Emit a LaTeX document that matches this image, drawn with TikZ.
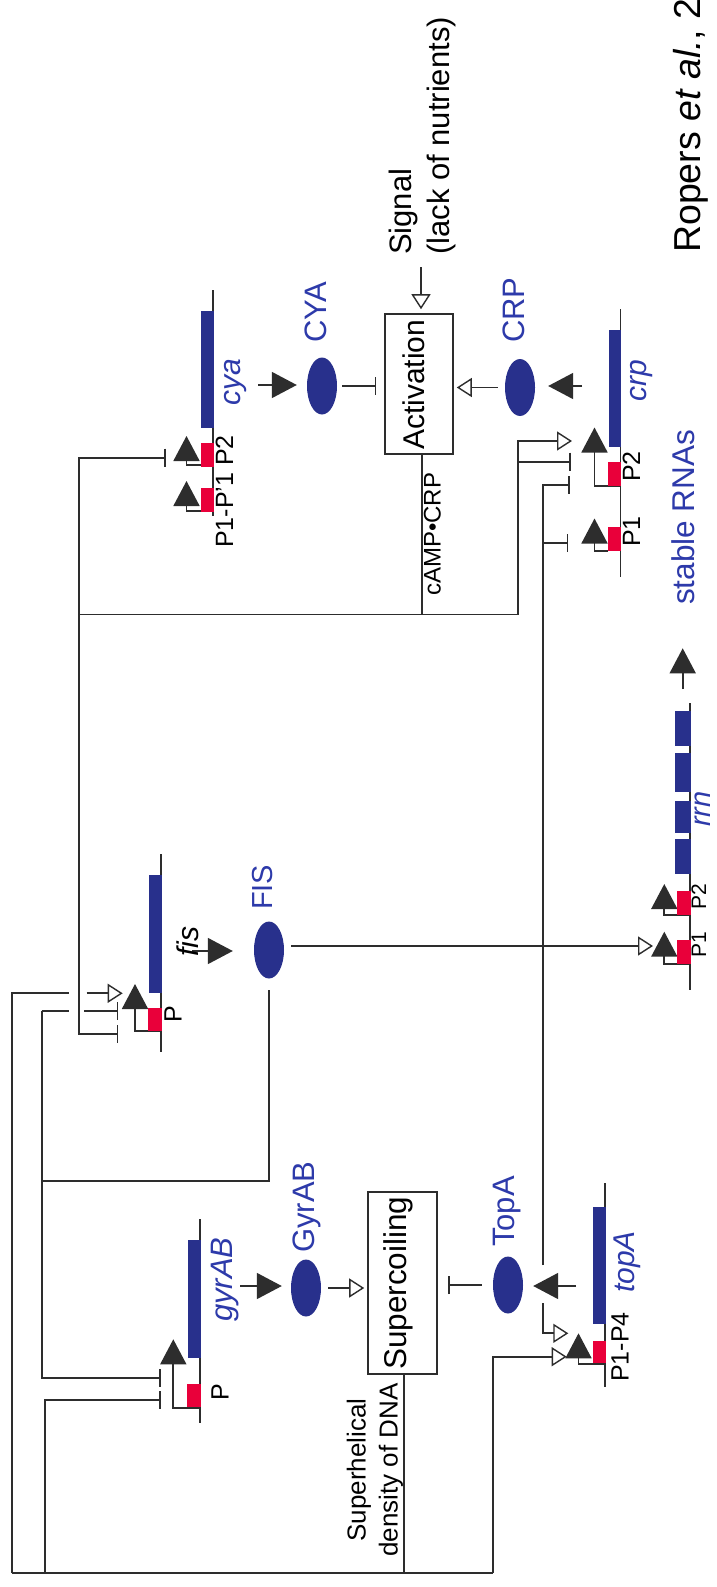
\documentclass[tikz,border=0pt]{standalone}
\usepackage{fontspec}
\setmainfont{Liberation Sans}
\usetikzlibrary{arrows.meta,shapes.geometric,calc}
\definecolor{navy}{RGB}{40,48,140}
\definecolor{bluetxt}{RGB}{45,58,170}
\definecolor{promred}{RGB}{233,0,58}
\definecolor{lc}{RGB}{45,45,45}
\newcommand{\fsz}[1]{\fontsize{#1}{#1}\selectfont}
\begin{document}
\begin{tikzpicture}[x=1pt,y=-1pt,
  ln/.style={line width=1.7pt, draw=lc},
  act/.style={ln, -{Triangle[open, length=15pt, width=19pt, fill=white, line width=1.4pt]}},
  inh/.style={ln, -{Bar[width=18pt]}},
  prom/.style={ln, -{Triangle[length=25pt, width=26pt, fill=lc]}},
  prot/.style={ellipse, fill=navy, minimum width=30pt, minimum height=57pt, inner sep=0pt},
  pbox/.style={draw=lc, line width=1.6pt, rectangle, inner sep=0pt},
  lab/.style={rotate=90, anchor=base west, inner sep=0pt, text=black},
  blab/.style={lab, text=bluetxt},
  glab/.style={lab, text=bluetxt, font=\fsz{30}\itshape},
]
\useasboundingbox (0,0) rectangle (716,1587);
\fill[white] (0,0) rectangle (716,1587);

% ---------- proteins and process boxes ----------
\node[prot] (CYA) at (322,386) {};
\node[prot] (CRP) at (520,387.5) {};
\node[prot] (FIS) at (269,950) {};
\node[prot] (GyrAB) at (306,1288) {};
\node[prot] (TopA) at (508,1285) {};
\node[pbox, minimum width=68pt, minimum height=140pt] (Act) at (419,384) {};
\node[pbox, minimum width=69pt, minimum height=182pt] (Sup) at (402.5,1283) {};

% ---------- genes ----------
% cya
\draw[ln] (213,290) -- (213,516);
\fill[navy] (201,311) rectangle (213.6,428);
\draw[prom] (213,465) -| (186.5,436);
\draw[prom] (213,511) -| (186.5,481);
\fill[promred] (200.7,443.3) rectangle (213.6,466.7);
\fill[promred] (200.7,488.3) rectangle (213.6,511.7);
% crp
\draw[ln] (620.5,309) -- (620.5,577);
\fill[navy] (608.5,330) rectangle (621.1,447);
\draw[prom] (620.5,486) -| (594.5,427.5);
\draw[prom] (608,551) -| (594.5,518.5);
\fill[promred] (608.3,461.7) rectangle (621.3,486);
\fill[promred] (608.3,526.7) rectangle (621.3,550.7);
% fis
\draw[ln] (161,854) -- (161,1052);
\fill[navy] (149,875) rectangle (161.6,992.5);
\draw[prom] (161,1031) -| (135,984);
\fill[promred] (148.3,1007.7) rectangle (161.6,1031);
% gyrAB
\draw[ln] (200,1219) -- (200,1423);
\fill[navy] (187.5,1240) rectangle (200.6,1358);
\draw[prom] (200,1408.3) -| (173.3,1339.3);
\fill[promred] (187.3,1384) rectangle (200.6,1407.3);
% topA
\draw[ln] (605,1183) -- (605,1387);
\fill[navy] (592.7,1207) rectangle (605.6,1324);
\draw[prom] (605,1364) -| (578.5,1333.3);
\fill[promred] (592.7,1341) rectangle (605.6,1363.3);
% rrn
\draw[ln] (690,703) -- (690,990);
\fill[navy] (675,711) rectangle (690.6,746);
\fill[navy] (675,753.3) rectangle (690.6,791.7);
\fill[navy] (675,800.7) rectangle (690.6,832.7);
\fill[navy] (675,839.3) rectangle (690.6,874);
\draw[prom] (690,915) -| (664.3,884);
\draw[prom] (690,964) -| (664.3,931.7);
\fill[promred] (677,891) rectangle (690.6,915);
\fill[promred] (677,940) rectangle (690.6,964);
\coordinate (rrnS) at (682.7,689);
\draw[prom] (rrnS) -- (682.7,648.3);

% ---------- expression arrows ----------
\coordinate (cyaE) at (258,385);
\draw[prom] (cyaE) -- ($(cyaE -| CYA.west)+(-10,0)$);
\coordinate (crpE) at (582,386);
\draw[prom] (crpE) -- ($(crpE -| CRP.east)+(13,0)$);
\coordinate (fisE) at (192,951);
\draw[prom] (fisE) -- ($(fisE -| FIS.west)+(-21,0)$);
\coordinate (gyrE) at (240,1286);
\draw[prom] (gyrE) -- ($(gyrE -| GyrAB.west)+(-9,0)$);
\coordinate (topE) at (576,1286);
\draw[prom] (topE) -- ($(topE -| TopA.east)+(10,0)$);

% ---------- interactions ----------
\coordinate (sig) at (421,267);
\draw[act, shorten >=4pt] (sig) -- (sig |- Act.north);
\draw[act, shorten <=7pt, shorten >=3pt] (CRP.west) -- (CRP.west -| Act.east);
\draw[inh, shorten <=5pt, shorten >=8pt] (CYA.east) -- (CYA.east -| Act.west);
\draw[act, shorten <=7pt, shorten >=3pt] (GyrAB.east) -- (GyrAB.east -| Sup.west);
\draw[inh, shorten <=11pt, shorten >=10pt] (TopA.west) -- (TopA.west -| Sup.east);

% cAMP.CRP
\coordinate (campT) at (421.7,454);
\coordinate (campB) at (421.7,614.5);
\draw[ln] (campT) -- (campB);
\draw[ln] (79,614.5) -- (518,614.5);
\draw[act] (518,614.5) -- (518,441) -- (572,441);
\draw[inh] (518,461.7) -- (571,461.7);
\draw[inh] (79,614.5) -- (79,457.7) -- (166,457.7);
\draw[inh] (79,614.5) -- (79,1034) -- (118.3,1034);

% TopA
\draw[inh] (543,1265) -- (543,485) -- (570,485);
\draw[inh] (543,543.3) -- (568.3,543.3);
\draw[act] (543,1303) -- (543,1333.3) -- (568.3,1333.3);

% FIS
\coordinate (fisO) at (291,946);
\draw[act] (fisO) -- (653,946);
\draw[ln] (269,990) -- (269,1181) -- (41.7,1181);
\draw[inh] (41.7,1011) -- (41.7,1378.3) -- (160.7,1378.3);
\draw[ln] (41.7,1011) -- (69.3,1011);
\draw[inh] (84.3,1011) -- (118.3,1011);

% Supercoiling
\draw[ln] (Sup.south -| 404,0) -- (404,1573);
\draw[ln] (11.5,1573) -- (493,1573);
\draw[act] (492.7,1573) -- (492.7,1356.7) -- (566.7,1356.7);
\draw[ln] (12.3,1573) -- (12.3,993.3) -- (69.3,993.3);
\draw[act] (86.7,993.3) -- (122.7,993.3);
\draw[inh] (45,1573) -- (45,1400) -- (160.7,1400);

% ---------- texts ----------
\node[lab, font=\fsz{37.5}] (ref) at (700,253) {Ropers \textit{et al.}, 2};
\node[lab, font=\fsz{31}] (sigA) at (411,255) {Signal};
\node[lab, font=\fsz{31}] (sigB) at (449.5,255) {(lack of nutrients)};
\node[lab, font=\fsz{30}] (actT) at (424,450) {Activation};
\node[lab, font=\fsz{31.5}] (supT) at (406,1370) {Supercoiling};
\node[lab, anchor=base, font=\fsz{26}] (shA) at (365.6,1470) {Superhelical};
\node[lab, anchor=base, font=\fsz{26}] (shB) at (397.6,1470) {density of DNA};
\node[lab, font=\fsz{24}] (campL) at (440.5,596) {cAMP•CRP};

\node[blab, font=\fsz{31}] at (326,343) {CYA};
\node[blab, font=\fsz{31}] at (524,343) {CRP};
\node[blab, font=\fsz{29}] at (272,910) {FIS};
\node[blab, font=\fsz{31}] at (314,1253) {GyrAB};
\node[blab, font=\fsz{31}] at (514,1247) {TopA};
\node[blab, font=\fsz{31.5}] at (694,605) {stable RNAs};

\node[glab] at (240,406) {cya};
\node[glab] at (646,402) {crp};
\node[glab, text=black] at (198,957) {fis};
\node[glab, font=\fsz{31}\itshape] at (232,1322) {gyrAB};
\node[glab] at (634,1293) {topA};
\node[glab, font=\fsz{29}\itshape] at (710,827) {rrn};

\node[lab, font=\fsz{25}] at (233,548) {P1-P'1 P2};
\node[lab, font=\fsz{25}] at (640,482) {P2};
\node[lab, font=\fsz{25}] at (640,547) {P1};
\node[lab, font=\fsz{25}] at (181.5,1023) {P};
\node[lab, font=\fsz{25}] at (228.5,1401) {P};
\node[lab, font=\fsz{25}] at (628.5,1382) {P1-P4};
\node[lab, font=\fsz{21}] at (706,910) {P2};
\node[lab, font=\fsz{21}] at (706,958) {P1};
\end{tikzpicture}
\end{document}
